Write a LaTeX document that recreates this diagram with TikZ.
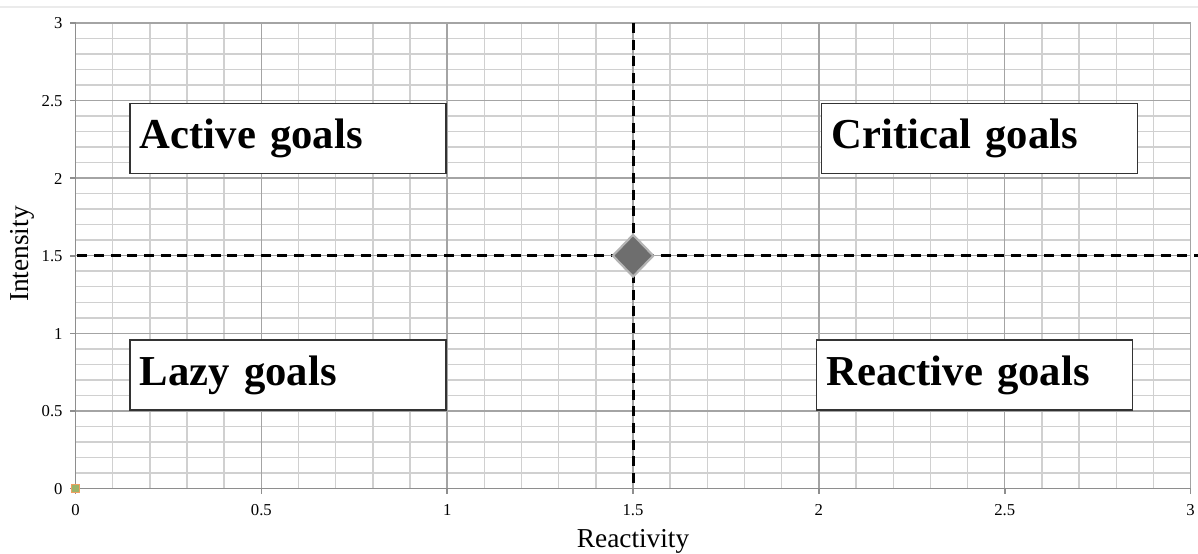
\documentclass[tikz,border=0pt]{standalone}
\usepackage{fontspec}
\setmainfont{Liberation Serif}
\usetikzlibrary{shapes.geometric}
\definecolor{minorgrid}{HTML}{D0D0D0}
\definecolor{majorgrid}{HTML}{A4A4A4}
\definecolor{axisgray}{HTML}{8E8E8E}
\definecolor{markfill}{HTML}{6E6E6E}
\definecolor{markedge}{HTML}{B4B4B4}
\definecolor{origfill}{HTML}{9CB46A}
\definecolor{origedge}{HTML}{F0A060}
\tikzset{
  minorline/.style={draw=minorgrid, line width=1.1pt},
  majorline/.style={draw=majorgrid, line width=1.1pt},
  axisline/.style={draw=axisgray, line width=1.2pt},
  quadbox/.style={draw=black!80, fill=white, line width=1pt, rectangle,
    minimum width=237pt, minimum height=52.5pt, text width=222pt,
    inner xsep=7.5pt, align=left, anchor=north west,
    font=\bfseries\fontsize{32}{36}\selectfont},
  ticklabel/.style={font=\fontsize{12.5}{14}\selectfont, inner sep=0pt},
  axistitle/.style={font=\fontsize{20.5}{24}\selectfont, inner sep=0pt},
  quadline/.style={draw=black, line width=2.3pt, dash pattern=on 7.5pt off 5pt},
}
\begin{document}
\begin{tikzpicture}
\useasboundingbox (0pt,0pt) rectangle (898.5pt,-414.75pt);
\fill[white] (0pt,0pt) rectangle (898.5pt,-414.75pt);
\draw[draw=black!8, line width=0.8pt] (0pt,-5.25pt) -- (898.5pt,-5.25pt);
\begin{scope}[shift={(56.625pt,-366.375pt)}, x=278.775pt, y=116.4pt]
  % minor grid
  \foreach \i in {1,...,29} {\draw[minorline] (\i/10,0) -- (\i/10,3);}
  \foreach \j in {1,...,29} {\draw[minorline] (0,\j/10) -- (3,\j/10);}
  % major grid
  \foreach \v in {0.5,1,1.5,2,2.5,3} {
    \draw[majorline] (\v,0) -- (\v,3);
    \draw[majorline] (0,\v) -- (3,\v);
  }
  % axes
  \draw[axisline] (0,3) -- (0,0) -- (3,0);
  % ticks and labels
  \foreach \v/\t in {0/0,0.5/0.5,1/1,1.5/1.5,2/2,2.5/2.5,3/3} {
    \draw[axisline] (\v,0) -- ++(0,-4pt);
    \draw[axisline] (0,\v) -- ++(-4pt,0);
    \node[ticklabel, anchor=base] (xl\t) at ([yshift=-19.9pt]\v,0) {\t};
    \node[ticklabel, anchor=base east] (yl\t) at ([xshift=-9.5pt,yshift=-4.5pt]0,\v) {\t};
  }
  \node[axistitle, anchor=base] (xtitle) at ([yshift=-44.6pt]1.5,0) {Reactivity};
  \node[axistitle, rotate=90] (ytitle) at (-0.144,1.511) {Intensity};
  % quadrant boxes
  \node[quadbox] (active) at (0.1447,2.486) {Active goals};
  \node[quadbox] (critical) at (2.005,2.486) {Critical goals};
  \node[quadbox] (lazy) at (0.1447,0.961) {Lazy goals};
  \node[quadbox] (reactive) at (1.992,0.961) {Reactive goals};
  % dashed quadrant lines
  \coordinate (vtop) at (1.5,3);
  \coordinate (vbot) at (1.5,0);
  \coordinate (hleft) at (0.005,1.5);
  \coordinate (hright) at (3.02,1.5);
  \draw[quadline] (vtop) -- (vbot);
  \draw[quadline] (hleft) -- (hright);
  % markers
  \node[diamond, fill=markfill, draw=markedge, line width=1.6pt, inner sep=0pt,
        minimum width=31pt, minimum height=32pt] (center) at (1.5,1.5) {};
  \node[rectangle, fill=origfill, draw=origedge, line width=0.9pt, inner sep=0pt,
        minimum size=5.5pt] (origin) at (0,0) {};
\end{scope}
\end{tikzpicture}
\end{document}
